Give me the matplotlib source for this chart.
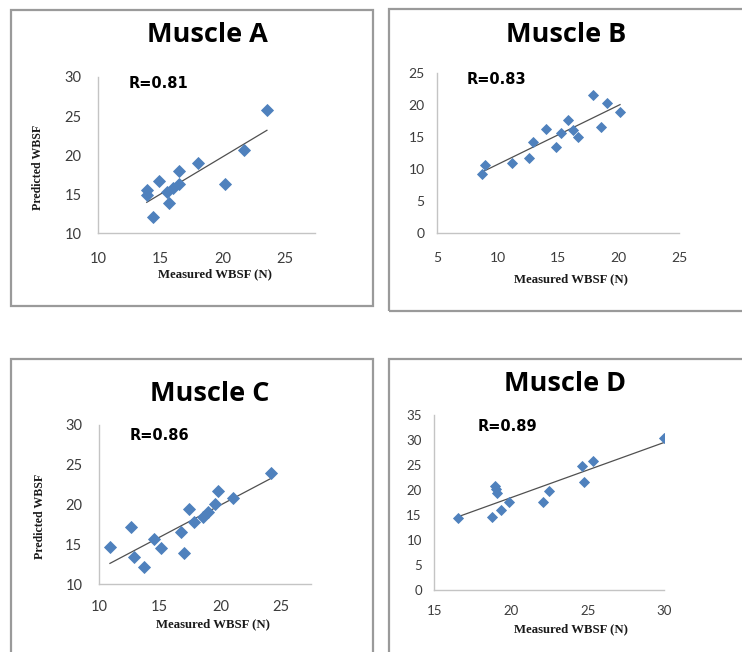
import numpy as np
import matplotlib
matplotlib.use("Agg")
import matplotlib.pyplot as plt
from matplotlib.patches import Rectangle

# ---------------- data ----------------
titles = ["Muscle A", "Muscle B", "Muscle C", "Muscle D"]
r_labels = ["R=0.81", "R=0.83", "R=0.86", "R=0.89"]

a_measured = [23.54, 21.66, 17.99, 16.51, 14.90, 13.89, 13.89, 15.55, 16.03, 16.51, 20.19, 15.71, 14.42]
a_predicted = [25.74, 20.72, 18.94, 17.95, 16.72, 15.53, 14.89, 15.23, 15.74, 16.29, 16.26, 13.91, 12.04]

b_measured = [8.67, 8.94, 11.20, 12.58, 12.93, 13.98, 14.81, 15.20, 15.83, 16.24, 16.65, 17.89, 18.50, 19.00, 20.10]
b_predicted = [9.18, 10.62, 10.98, 11.76, 14.15, 16.22, 13.47, 15.55, 17.62, 16.07, 15.02, 21.51, 16.58, 20.22, 18.82]

c_measured = [24.17, 19.77, 21.01, 19.58, 17.43, 18.94, 18.53, 17.84, 12.60, 16.74, 14.54, 10.90, 15.14, 12.88, 16.96, 13.71]
c_predicted = [23.92, 21.74, 20.86, 20.03, 19.40, 19.09, 18.47, 17.84, 17.13, 16.50, 15.66, 14.62, 14.49, 13.43, 13.86, 12.18]

d_measured = [16.57, 18.74, 19.33, 19.87, 18.96, 19.02, 19.11, 22.11, 22.48, 24.62, 24.77, 25.37, 29.98]
d_predicted = [14.46, 14.54, 16.00, 17.54, 20.86, 20.14, 19.46, 17.54, 19.86, 24.80, 21.66, 25.86, 30.46]

xticks_a = [10, 15, 20, 25]
yticks_a = [10, 15, 20, 25, 30]
xticks_b = [5, 10, 15, 20, 25]
yticks_b = [0, 5, 10, 15, 20, 25]
xticks_c = [10, 15, 20, 25]
yticks_c = [10, 15, 20, 25, 30]
xticks_d = [15, 20, 25, 30]
yticks_d = [0, 5, 10, 15, 20, 25, 30, 35]

x_label = "Measured WBSF (N)"
y_label = "Predicted WBSF"

# ---------------- layout ----------------
W, H = 742, 652
fig = plt.figure(figsize=(W / 100, H / 100), dpi=100)
fig.patch.set_facecolor("white")


def fx(px):
    return px / W


def fy(py):
    return 1 - py / H


# panel frames (pixel boxes)
frames = [(11, 10, 373, 306), (389, 9, 760, 311), (11, 359, 373, 670), (389, 359, 760, 670)]
for (x0, y0, x1, y1) in frames:
    fig.patches.append(Rectangle((fx(x0), fy(y1)), fx(x1) - fx(x0), fy(y0) - fy(y1),
                                 transform=fig.transFigure, fill=False,
                                 edgecolor="#9a9a9a", linewidth=1.6, zorder=0))

panels = [
    dict(x=a_measured, y=a_predicted, rect=(98.3, 77, 315, 233.3), xlim=(10, 27.4), ylim=(10, 30),
         xt=xticks_a, yt=yticks_a, tfs=10.5, ms=6.2, ypad=12, xpad=13.5,
         title=(207.5, 35), r=(129, 83.5), xl=(215, 274.5), yl=(38, 167.5)),
    dict(x=b_measured, y=b_predicted, rect=(437.3, 72.7, 679.3, 233.3), xlim=(5, 25), ylim=(0, 25),
         xt=xticks_b, yt=yticks_b, tfs=10, ms=5.6, ypad=9, xpad=13.5,
         title=(566, 35), r=(466.7, 80), xl=(570.5, 279), yl=None),
    dict(x=c_measured, y=c_predicted, rect=(99, 425, 310.5, 584), xlim=(10, 27.4), ylim=(10, 30),
         xt=xticks_c, yt=yticks_c, tfs=10.5, ms=6.2, ypad=12, xpad=11.5,
         title=(209.5, 394), r=(130, 435), xl=(213.3, 624), yl=(40.3, 516.7)),
    dict(x=d_measured, y=d_predicted, rect=(434.3, 415, 664.3, 590), xlim=(15, 30), ylim=(0, 35),
         xt=xticks_d, yt=yticks_d, tfs=9.5, ms=5.2, ypad=9, xpad=11,
         title=(565, 384), r=(477.3, 426.7), xl=(570.5, 629), yl=None),
]

tick_color = "#3c3c3c"
for i, p in enumerate(panels):
    x0, y0, x1, y1 = p["rect"]
    ax = fig.add_axes([fx(x0), fy(y1), fx(x1) - fx(x0), fy(y0) - fy(y1)])
    ax.set_xlim(*p["xlim"])
    ax.set_ylim(*p["ylim"])
    ax.set_xticks(p["xt"])
    ax.set_yticks(p["yt"])
    for s in ["top", "right"]:
        ax.spines[s].set_visible(False)
    for s in ["left", "bottom"]:
        ax.spines[s].set_color("#c4c4c4")
        ax.spines[s].set_linewidth(1.0)
    ax.tick_params(axis="both", length=0, labelsize=p["tfs"], colors=tick_color)
    ax.tick_params(axis="y", pad=p["ypad"])
    ax.tick_params(axis="x", pad=p["xpad"])
    for lab in ax.get_xticklabels() + ax.get_yticklabels():
        lab.set_fontfamily("Lato")
    ax.patch.set_alpha(0)

    xs = np.array(p["x"])
    ys = np.array(p["y"])
    slope, intercept = np.polyfit(xs, ys, 1)
    lx = np.array([xs.min(), xs.max()])
    ax.plot(lx, slope * lx + intercept, color="#505050", linewidth=0.9, zorder=2)
    ax.plot(xs, ys, linestyle="none", marker="D", markersize=p["ms"],
            markerfacecolor="#4f81bd", markeredgecolor="#4f81bd", markeredgewidth=0.6, zorder=3)
    ax.set_clip_on(False)

    tx, ty = p["title"]
    fig.text(fx(tx), fy(ty), titles[i], ha="center", va="center", fontsize=19.5,
             fontweight="bold", family="Open Sans", color="black")
    rx, ry = p["r"]
    fig.text(fx(rx), fy(ry), r_labels[i], ha="left", va="center", fontsize=10.5,
             fontweight="bold", family="DejaVu Sans", color="black")
    xlx, xly = p["xl"]
    fig.text(fx(xlx), fy(xly), x_label, ha="center", va="center", fontsize=9.2,
             fontweight="bold", family="Liberation Serif", color="#1a1a1a")
    if p["yl"] is not None:
        ylx, yly = p["yl"]
        fig.text(fx(ylx), fy(yly), y_label, ha="center", va="center", fontsize=8.6,
                 fontweight="bold", family="Liberation Serif", rotation=90, color="#1a1a1a")

fig.savefig("out.png", dpi=100, facecolor="white")
